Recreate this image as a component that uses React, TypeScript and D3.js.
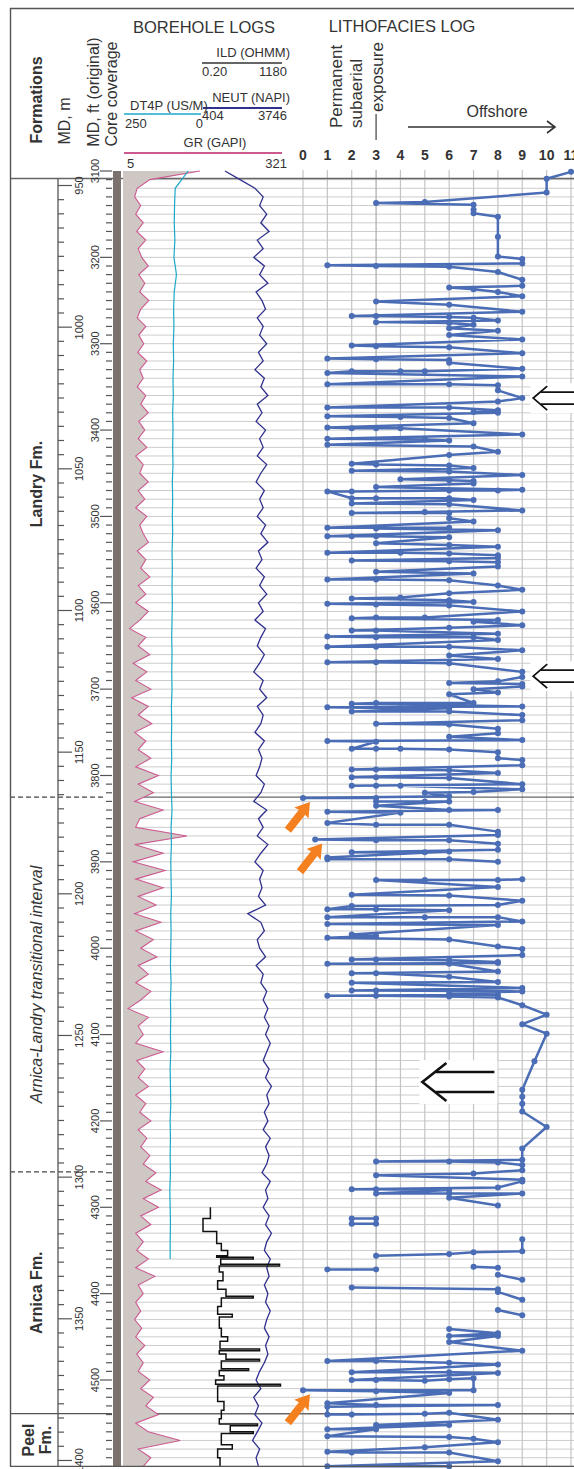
import React from 'react';
import * as d3 from 'd3';

// depth frame, feet (original log depth)
const FT_TOP = 3100;
const FT_BASE = 4600;
const FT_PER_M = 3.28084;
const ftLabels = [3100, 3200, 3300, 3400, 3500, 3600, 3700, 3800, 3900, 4000, 4100, 4200, 4300, 4400, 4500];
const mLabels = [950, 1000, 1050, 1100, 1150, 1200, 1250, 1300, 1350, 1400];

// formation intervals (ft)
const formationNames = [['Landry Fm.'], ['Arnica-Landry transitional interval'], ['Arnica Fm.'], ['Peel', 'Fm.']];
const formationTops = [3100, 3825, 4259, 4539];
const formationItalic = [false, true, false, false];

// curve scales from the log header
const grRange = [5, 321];
const dtRange = [250, 0];
const neutRange = [404, 3746];
const ildRange = [0.2, 1180];
const faciesTicks = [0, 1, 2, 3, 4, 5, 6, 7, 8, 9, 10, 11];

// GR (GAPI), one value every 10 ft from 3100 ft
const grValues = [
  157, 58, 33, 28, 40, 30, 45, 32, 50, 35,
  42, 55, 36, 48, 38, 56, 40, 33, 50, 36,
  46, 34, 52, 38, 45, 33, 50, 40, 55, 36,
  48, 35, 52, 30, 45, 38, 55, 35, 48, 30,
  52, 38, 45, 55, 33, 50, 40, 58, 35, 50,
  30, 55, 38, 18, 50, 35, 58, 25, 52, 30,
  60, 22, 55, 35, 62, 28, 50, 35, 60, 30,
  75, 35, 65, 28, 84, 38, 30, 131, 28, 84,
  25, 88, 30, 84, 35, 70, 28, 80, 30, 65,
  40, 72, 35, 55, 30, 60, 40, 15, 55, 35,
  45, 30, 84, 32, 48, 35, 55, 30, 50, 38,
  60, 35, 52, 40, 58, 45, 70, 50, 80, 45,
  75, 40, 60, 30, 45, 32, 55, 30, 68, 35,
  45, 30, 40, 28, 42, 30, 48, 32, 45, 35,
  58, 40, 65, 50, 75, 30, 55, 118, 35, 60,
  45,
];

// NEUT (NAPI), every 10 ft from 3100 ft
const neutValues = [
  1335, 1970, 2600, 2950, 2800, 3100, 2850, 3200, 2700, 2950,
  2550, 3000, 2800, 3150, 2650, 2900, 3050, 2700, 2950, 2800,
  3100, 2750, 2950, 2600, 3000, 2850, 3150, 2700, 2900, 2650,
  3050, 2800, 2950, 2700, 3100, 2850, 2650, 3000, 2800, 2950,
  2700, 3050, 2850, 3150, 2750, 2900, 2650, 3000, 2800, 3100,
  2750, 2950, 2600, 3050, 2850, 2700, 3000, 2800, 2550, 2950,
  2800, 3100, 2700, 2950, 2850, 2600, 3000, 2750, 2900, 2800,
  2650, 3000, 2850, 2550, 3100, 2750, 2950, 2700, 3150, 2850,
  2600, 2950, 2800, 2900, 2750, 3050, 2300, 2850, 3000, 2700,
  2800, 3050, 2650, 2950, 2850, 3100, 2950, 3150, 3000, 3200,
  3050, 3250, 3100, 2950, 3200, 3050, 3300, 3100, 3200, 3000,
  3150, 2950, 3250, 3050, 3200, 3100, 2900, 3250, 3050, 3150,
  2950, 3200, 3050, 3300, 3100, 3000, 3250, 3100, 3200, 3000,
  3150, 3050, 3250, 3100, 3000, 3200, 3050, 3150, 3000, 2800,
  2650, 2850, 2550, 2750, 2600, 2900, 2700, 2500, 2800, 2650,
  2750,
];

// DT4P (US/M), every 20 ft from 3100 to 4360 ft
const dtValues = [
  47, 88, 90, 91, 89, 92, 84, 91, 93, 92,
  94, 93, 95, 94, 96, 95, 96, 95, 97, 96,
  97, 96, 98, 97, 98, 97, 98, 99, 98, 99,
  98, 100, 99, 100, 99, 101, 100, 98, 101, 100,
  102, 101, 100, 102, 101, 102, 103, 101, 103, 102,
  103, 102, 104, 103, 102, 104, 103, 104, 103, 105,
  104, 103, 104, 104,
];

// ILD (OHMM), step log: [top ft, value]
const ildLog: [number, number][] = [
  [4300, 0.45], [4313, 0.2], [4328, 0.9], [4342, 1.5], [4350, 3], [4356, 0.9], [4358, 50], [4360, 1.4],
  [4366, 900], [4368, 1.2], [4375, 1.8], [4385, 1.0], [4395, 2.5], [4403, 50], [4405, 1.5], [4415, 1.0],
  [4424, 5], [4427, 1.2], [4440, 1.5], [4450, 3], [4455, 1.3], [4464, 100], [4466, 1.2], [4470, 2.5],
  [4476, 100], [4478, 1.5], [4487, 30], [4489, 1.2], [4495, 2], [4500, 0.8], [4505, 1000], [4507, 1.0],
  [4525, 2], [4535, 1.5], [4545, 1.2], [4551, 80], [4553, 4], [4560, 50], [4562, 1.5], [4575, 5],
  [4580, 1.0], [4590, 1.3], [4600, 1.2],
];

// lithofacies log: [depth ft, facies code]; null = gap in the log
const litho: ([number, number] | null)[] = [
  [3101, 11], [3109, 10], [3125, 10], [3136, 5], [3137, 3], [3139, 7], [3145, 7], [3149, 7], [3153, 8], [3176, 8],
  [3199, 8], [3202, 9], [3207, 9], [3209, 1], [3210, 3], [3211, 6], [3217, 8], [3226, 9], [3233, 9], [3235, 6],
  [3237, 7], [3240, 8], [3245, 9], [3251, 3], [3255, 6], [3263, 9], [3268, 2], [3268, 3], [3269, 6], [3270, 7],
  [3273, 8], [3275, 3], [3276, 6], [3278, 7], [3282, 6], [3285, 8], [3290, 6], [3295, 9], [3302, 2], [3303, 3],
  [3304, 6], [3311, 9], [3317, 1], [3318, 3], [3319, 6], [3322, 6], [3329, 9], [3332, 5], [3332, 4], [3332, 2],
  [3334, 1], [3338, 9], [3347, 1], [3347, 6], [3348, 8], [3354, 8], [3363, 9], [3367, 8], [3374, 1], [3374, 6],
  [3377, 8], [3379, 7], [3380, 8], [3384, 1], [3385, 4], [3386, 6], [3392, 7], [3397, 1], [3398, 2], [3398, 3],
  [3398, 4], [3405, 9], [3410, 1], [3411, 5], [3412, 6], [3417, 1], [3419, 7], [3425, 8], [3429, 6], [3439, 2],
  [3440, 3], [3441, 6], [3444, 7], [3447, 2], [3448, 6], [3452, 9], [3457, 4], [3458, 6], [3459, 7], [3462, 7],
  [3466, 3], [3469, 9], [3470, 8], [3470, 6], [3471, 2], [3471, 1], [3479, 2], [3479, 3], [3479, 6], [3481, 7],
  [3485, 2], [3486, 6], [3493, 9], [3495, 5], [3496, 2], [3496, 6], [3502, 6], [3506, 7], [3513, 1], [3513, 6],
  [3514, 3], [3516, 8], [3523, 1], [3523, 2], [3523, 3], [3524, 6], [3531, 3], [3533, 6], [3535, 8], [3542, 1],
  [3542, 4], [3543, 6], [3545, 8], [3548, 8], [3551, 2], [3552, 6], [3553, 8], [3558, 8], [3564, 3], [3566, 7],
  [3573, 1], [3573, 3], [3574, 6], [3580, 8], [3585, 9], [3589, 6], [3594, 4], [3595, 2], [3597, 6], [3599, 7],
  [3601, 1], [3602, 3], [3603, 6], [3610, 9], [3617, 5], [3617, 3], [3618, 2], [3620, 8], [3622, 7], [3626, 9],
  [3629, 6], [3632, 2], [3632, 3], [3636, 8], [3639, 1], [3640, 3], [3640, 7], [3643, 8], [3651, 1], [3651, 3],
  [3651, 6], [3655, 9], [3661, 6], [3665, 8], [3669, 1], [3669, 3], [3670, 6], [3680, 9], [3686, 9], [3691, 8],
  [3693, 6], [3694, 9], [3697, 9], [3700, 7], [3704, 8], [3706, 6], [3716, 7], [3716, 3], [3717, 2], [3720, 9],
  [3721, 1], [3722, 4], [3722, 6], [3726, 2], [3726, 6], [3730, 9], [3736, 9], [3740, 3], [3741, 6], [3746, 8],
  [3751, 8], [3755, 6], [3759, 9], [3760, 1], [3761, 3], [3769, 2], [3769, 3], [3769, 4], [3770, 6], [3773, 8],
  [3780, 8], [3782, 9], [3788, 9], [3793, 2], [3793, 3], [3794, 6], [3797, 8], [3802, 2], [3802, 3], [3803, 6],
  [3810, 9], [3812, 2], [3812, 3], [3812, 4], [3816, 9], [3819, 7], [3820, 5], [3824, 6], [3826, 0], [3826, 3],
  [3830, 3], [3830, 5], [3830, 6], [3835, 3], [3840, 6], [3840, 8], [3842, 1], [3843, 4], [3855, 1], [3857, 3],
  [3857, 6], [3865, 8], [3869, 8], [3874, 0.5], [3875, 3], [3875, 6], [3879, 8], [3886, 8], [3889, 2], [3889, 5],
  [3888, 6], [3895, 1], [3897, 1], [3897, 6], [3900, 8], null,
  [3920, 9], [3921, 8], [3921, 5], [3921, 3], [3929, 8], [3938, 2], [3939, 6], [3945, 9], [3950, 8], [3951, 2],
  [3955, 1], [3955, 3], [3956, 6], [3964, 1], [3964, 5], [3964, 8], [3969, 9], [3972, 1], [3973, 8], [3984, 2],
  [3986, 3], [3988, 1], [3990, 6], [3998, 8], [4001, 9], [4008, 9], [4013, 2], [4013, 3], [4014, 6], [4016, 8],
  [4017, 8], [4018, 1], [4018, 6], [4027, 8], [4029, 2], [4029, 3], [4033, 6], [4039, 8], [4040, 2], [4046, 9],
  [4049, 2], [4049, 3], [4050, 9], [4052, 6], [4054, 8], [4055, 1], [4055, 3], [4056, 6], [4057, 8], [4066, 9],
  [4077, 10], [4088, 9], [4099, 10], [4131, 9.5], [4164, 9], [4172, 9], [4180, 9], [4189, 9], [4207, 10], [4232, 9],
  [4245, 9], [4247, 3], [4247, 6], [4248, 8], [4251, 9], [4257, 9], [4261, 7], [4263, 3], [4268, 9], [4270, 9],
  [4277, 8], [4279, 2], [4279, 3], [4280, 6], [4284, 3], [4284, 6], [4284, 9], [4289, 6], [4298, 8], null,
  [4313, 2], [4313, 3], [4319, 3], [4319, 2], null,
  [4337, 9], [4351, 9], [4352, 7], [4354, 6], [4356, 3], null,
  [4372, 1], [4372, 3], null,
  [4369, 7], [4370, 8], null,
  [4378, 8], [4384, 9], null,
  [4393, 2], [4395, 8], [4398, 8], [4407, 9], null,
  [4419, 8], [4425, 9], null,
  [4441, 6], [4446, 8], [4449, 6], [4449, 8], [4456, 6], [4466, 9], [4478, 1], [4478, 3], [4480, 6], [4482, 8],
  [4491, 2], [4491, 6], [4492, 8], [4500, 2], [4500, 3], [4501, 5], [4499, 6], [4498, 7], [4512, 7], [4512, 0],
  [4513, 3], [4515, 6], [4527, 1], [4529, 3], [4529, 8], [4531, 1], [4540, 1], [4540, 2], [4539, 5], [4538, 6],
  [4546, 8], [4552, 3], [4552, 6], [4557, 1], [4557, 3], [4565, 1], [4566, 6], [4568, 7], [4572, 8], [4578, 5],
  [4583, 1], [4584, 2], [4584, 6], [4594, 8], [4600, 1], [4600, 6],
];

// annotations: hollow arrows [depth ft, tip facies, big?] and orange pointers [depth ft, facies]
const hollowArrows: [number, number, boolean][] = [[3363, 9.45, false], [3685, 9.45, false], [4155, 4.9, true]];
const orangeMarks: [number, number][] = [[3826, 0], [3874, 0.5], [4512, 0]];

const FONT = '"Liberation Sans", Arial, Helvetica, sans-serif';
const INK = '#333';

export default function App() {
  const W = 574;
  const H = 1469;
  const y = d3.scaleLinear().domain([FT_TOP, 4500]).range([171, 1380]);
  const yBottom = y(FT_BASE);
  const xF = d3.scaleLinear().domain([0, 11]).range([303, 571]);
  const xGR = d3.scaleLinear().domain(grRange).range([123, 283]);
  const xDT = d3.scaleLinear().domain(dtRange).range([124, 203]);
  const xNE = d3.scaleLinear().domain(neutRange).range([203, 282]);
  const xILD = d3.scaleLog().domain(ildRange).range([203, 282]);

  const gr: [number, number][] = grValues.map((v, i) => [FT_TOP + i * 10, v]);
  const ne: [number, number][] = neutValues.map((v, i) => [FT_TOP + i * 10, v]);
  const dt: [number, number][] = dtValues.map((v, i) => [FT_TOP + i * 20, v]);

  const grLine = d3.line<[number, number]>().x(d => xGR(d[1])).y(d => y(d[0]));
  const grArea = d3.area<[number, number]>().x0(xGR(grRange[0])).x1(d => xGR(d[1])).y(d => y(d[0]));
  const dtLine = d3.line<[number, number]>().x(d => xDT(d[1])).y(d => y(d[0]));
  const neLine = d3.line<[number, number]>().x(d => xNE(d[1])).y(d => y(d[0]));
  const ildLine = d3.line<[number, number]>().x(d => xILD(d[1])).y(d => y(d[0])).curve(d3.curveStepBefore);
  const lithoLine = d3.line<[number, number] | null>()
    .defined(d => d !== null)
    .x(d => xF((d as [number, number])[1]))
    .y(d => y((d as [number, number])[0]));

  const gridFt = d3.range(FT_TOP + 10, FT_BASE + 1, 10);
  const ftMinor = d3.range(FT_TOP, FT_BASE + 1, 10);
  const mMinor = d3.range(950, FT_BASE / FT_PER_M, 5);
  const yM = (m: number) => y(m * FT_PER_M);

  const lithoColor = '#4a6db5';
  const boundaries = formationTops.slice(1);
  const formBases = [...formationTops.slice(1), FT_BASE];

  const rotText = (x: number, yy: number, txt: string, opts: any = {}) => (
    <text
      key={`${txt}-${x}-${yy}`}
      x={x}
      y={yy}
      transform={`rotate(-90, ${x}, ${yy})`}
      textAnchor={opts.anchor || 'middle'}
      dominantBaseline="central"
      fontSize={opts.size || 16}
      fontWeight={opts.bold ? 'bold' : 'normal'}
      fontStyle={opts.italic ? 'italic' : 'normal'}
      fill={INK}
    >
      {txt}
    </text>
  );

  return (
    <svg width={W} height={H} style={{ position: 'absolute', left: 0, top: 0, display: 'block' }} fontFamily={FONT}>
      <rect x={0} y={0} width={W} height={H} fill="#fff" />

      {/* horizontal depth grid */}
      {gridFt.map(f => (
        <line key={`g${f}`} x1={123} x2={W} y1={y(f)} y2={y(f)} stroke="#cccccc" strokeWidth={1} />
      ))}
      {/* facies grid */}
      {faciesTicks.map(f => (
        <line key={`v${f}`} x1={xF(f)} x2={xF(f)} y1={170} y2={yBottom} stroke={f === 3 ? '#aaa' : '#c4c4c4'} strokeWidth={1.2} />
      ))}

      {/* header divider */}
      <line x1={10} x2={W} y1={178.5} y2={178.5} stroke="#666" strokeWidth={1.4} />

      {/* formation boundaries */}
      {boundaries.map((b, i) => (
        <g key={`b${b}`}>
          {i < 2 ? (
            <line x1={10} x2={103} y1={y(b)} y2={y(b)} stroke="#444" strokeWidth={1.3} strokeDasharray="5,3" />
          ) : (
            <line x1={10} x2={112} y1={y(b)} y2={y(b)} stroke="#555" strokeWidth={1.3} />
          )}
          {i !== 1 && <line x1={123} x2={W} y1={y(b)} y2={y(b)} stroke="#666" strokeWidth={1.3} />}
        </g>
      ))}

      {/* GR with shading */}
      <path d={grArea(gr) || ''} fill="#cfc7c4" />
      <path d={grLine(gr) || ''} fill="none" stroke="#cc5a90" strokeWidth={1.1} />

      {/* core coverage */}
      <rect x={113} y={171} width={8} height={yBottom - 171} fill="#7b716d" />

      {/* DT4P, NEUT, ILD */}
      <path d={dtLine(dt) || ''} fill="none" stroke="#1ea7c9" strokeWidth={1.2} />
      <path d={neLine(ne) || ''} fill="none" stroke="#30308e" strokeWidth={1.3} />
      <path d={ildLine(ildLog) || ''} fill="none" stroke="#111" strokeWidth={1.5} />

      {/* lithofacies log */}
      <path d={lithoLine(litho) || ''} fill="none" stroke={lithoColor} strokeWidth={2.5} strokeLinejoin="round" />
      {litho.filter(d => d !== null).map((d, i) => (
        <circle key={`p${i}`} cx={xF((d as [number, number])[1])} cy={y((d as [number, number])[0])} r={3} fill={lithoColor} />
      ))}

      {/* hollow arrows */}
      {hollowArrows.map(([ft, f, big], i) => {
        const tx = xF(f);
        const ty = y(ft);
        const ax = big ? 24 : 14;
        const ay = big ? 19 : 12;
        const ly = big ? 10 : 6;
        const len = big ? 72 : 50;
        return (
          <g key={`ha${i}`} fill="none" stroke="#111" strokeWidth={big ? 2.6 : 1.8}>
            <rect x={tx - 3} y={ty - ay - 3} width={len + 6} height={2 * ay + 6} fill="#fff" stroke="none" />
            <path d={`M${tx + ax},${ty - ay}L${tx},${ty}L${tx + ax},${ty + ay}`} />
            <path d={`M${tx + ax * 0.55},${ty - ly}H${tx + len}M${tx + ax * 0.55},${ty + ly}H${tx + len}`} />
          </g>
        );
      })}

      {/* orange pointers */}
      {orangeMarks.map(([ft, f], i) => (
        <polygon
          key={`om${i}`}
          points="0,0 -14,-9 -13,-4 -36,-4 -36,4 -13,4 -14,9"
          fill="#f4801f"
          transform={`translate(${xF(f) + 7},${y(ft) + 4}) rotate(-52)`}
        />
      ))}

      {/* depth axes */}
      <line x1={58} x2={58} y1={178} y2={yBottom} stroke="#555" strokeWidth={1.3} />
      {mMinor.map(m => (
        <line key={`mm${m}`} x1={58} x2={m % 50 === 0 ? 72 : 64} y1={yM(m)} y2={yM(m)} stroke="#555" strokeWidth={1.2} />
      ))}
      {mLabels.map(m => rotText(79, yM(m), String(m), { size: 11 }))}
      {ftMinor.map(f => (
        <line key={`fm${f}`} x1={f % 100 === 0 ? 100 : 106} x2={112} y1={y(f)} y2={y(f)} stroke="#555" strokeWidth={1.2} />
      ))}
      {ftLabels.map(f => rotText(95, y(f), String(f), { size: 11 }))}

      {/* formation names */}
      {formationNames.map((lines, i) => {
        const mid = y((formationTops[i] + formBases[i]) / 2);
        return lines.map((t, j) =>
          rotText(37 + (j - (lines.length - 1) / 2) * 17, mid, t, { bold: !formationItalic[i], italic: formationItalic[i], size: 16 })
        );
      })}

      {/* frame */}
      <line x1={10} x2={W} y1={8.5} y2={8.5} stroke="#555" strokeWidth={1.4} />
      <line x1={10.5} x2={10.5} y1={8} y2={yBottom} stroke="#555" strokeWidth={1.4} />
      <line x1={10} x2={W} y1={yBottom} y2={yBottom} stroke="#555" strokeWidth={1.2} />

      {/* header: rotated column titles */}
      {rotText(36, 100, 'Formations', { bold: true, size: 16 })}
      {rotText(64, 121, 'MD, m', { size: 16 })}
      {rotText(93, 92, 'MD, ft (original)', { size: 16 })}
      {rotText(111, 94, 'Core coverage', { size: 16 })}

      {/* header: borehole log scales */}
      <g fill={INK}>
        <text x={204} y={33} textAnchor="middle" fontSize={16.5}>BOREHOLE LOGS</text>
        <text x={290} y={57} textAnchor="end" fontSize={13}>ILD (OHMM)</text>
        <line x1={202} x2={282} y1={63} y2={63} stroke="#333" strokeWidth={1.5} />
        <text x={202} y={76} fontSize={13}>{ildRange[0].toFixed(2)}</text>
        <text x={287} y={76} textAnchor="end" fontSize={13}>{ildRange[1]}</text>
        <text x={290} y={102} textAnchor="end" fontSize={13}>NEUT (NAPI)</text>
        <line x1={203} x2={282} y1={108} y2={108} stroke="#30308e" strokeWidth={1.8} />
        <text x={202} y={120} fontSize={13}>{neutRange[0]}</text>
        <text x={287} y={120} textAnchor="end" fontSize={13}>{neutRange[1]}</text>
        <text x={130} y={110} fontSize={13}>DT4P (US/M)</text>
        <line x1={124} x2={201} y1={114} y2={114} stroke="#1ea7c9" strokeWidth={1.5} />
        <text x={125} y={128} fontSize={13}>{dtRange[0]}</text>
        <text x={203} y={128} textAnchor="end" fontSize={13}>{dtRange[1]}</text>
        <text x={215} y={147} textAnchor="middle" fontSize={13}>GR (GAPI)</text>
        <line x1={124} x2={282} y1={153} y2={153} stroke="#cc5a90" strokeWidth={1.8} />
        <text x={127} y={168} fontSize={13}>{grRange[0]}</text>
        <text x={287} y={168} textAnchor="end" fontSize={13}>{grRange[1]}</text>
      </g>

      {/* header: lithofacies */}
      <g fill={INK}>
        <text x={402} y={32} textAnchor="middle" fontSize={16.5}>LITHOFACIES LOG</text>
        {rotText(336, 128, 'Permanent', { anchor: 'start', size: 17 })}
        {rotText(356, 128, 'subaerial', { anchor: 'start', size: 17 })}
        {rotText(377, 112, 'exposure', { anchor: 'start', size: 17 })}
        <line x1={xF(3)} x2={xF(3)} y1={114} y2={140} stroke="#666" strokeWidth={1.5} />
        <text x={497} y={117} textAnchor="middle" fontSize={16}>Offshore</text>
        <path d="M408,127H555M547,121L555,127L547,133" fill="none" stroke="#333" strokeWidth={1.6} />
        {faciesTicks.map(f => (
          <text key={`ft${f}`} x={xF(f)} y={160} textAnchor="middle" fontSize={14} fontWeight="bold">{f}</text>
        ))}
      </g>
    </svg>
  );
}
